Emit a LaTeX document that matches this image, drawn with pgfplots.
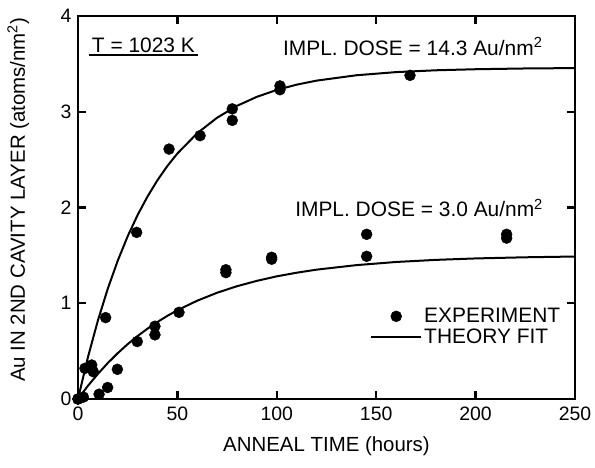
\documentclass[border=0pt]{standalone}
\usepackage{fontspec}
\setmainfont{Liberation Sans}
\usepackage{pgfplots}
\pgfplotsset{compat=1.18}

% Legend pictures: a dot centred over a 50bp line, and the plain line
\pgfplotsset{
  dotlegend/.style={legend image code/.code={%
    \draw[##1,mark repeat=2,mark phase=2] plot coordinates {(0bp,0bp) (25bp,0bp) (50bp,0bp)};}},
  linelegend/.style={legend image code/.code={%
    \draw[##1] (0bp,0bp) -- (50bp,0bp);}},
}

% Measured gold uptake of the second cavity layer (two implant doses)
\pgfplotstableread{
t     au
0     0
3.5   0.32
6.9   0.355
7.7   0.285
13.9  0.85
29.5  1.74
45.8  2.61
61.4  2.75
77.6  3.03
77.6  2.91
101.6 3.27
101.6 3.23
167   3.38
}\highdose
\pgfplotstableread{
t     au
0     0
2.7   0.02
10.6  0.05
14.9  0.12
19.8  0.31
29.8  0.60
38.7  0.76
38.7  0.67
50.8  0.905
74.4  1.35
74.4  1.32
97.4  1.48
97.4  1.46
145.2 1.72
145.2 1.49
215.6 1.72
215.6 1.68
}\lowdose
% Fitted uptake curves
\pgfplotstableread{
t    au
0    0
5    0.437
10   0.819
15   1.153
20   1.445
25   1.700
30   1.922
35   2.116
40   2.286
45   2.435
50   2.564
60   2.776
70   2.938
80   3.062
90   3.156
100  3.228
110  3.283
120  3.325
140  3.381
160  3.414
180  3.433
200  3.444
225  3.452
250  3.456
}\highfit
\pgfplotstableread{
t    au
0    0
5    0.138
10   0.262
15   0.376
20   0.479
25   0.573
30   0.658
35   0.735
40   0.805
45   0.869
50   0.927
60   1.027
70   1.110
80   1.178
90   1.234
100  1.281
110  1.319
120  1.351
140  1.398
160  1.431
180  1.453
200  1.468
225  1.480
250  1.488
}\lowfit

\begin{document}
\begin{tikzpicture}
\begin{axis}[
  scale only axis,
  width=497bp, height=383bp,
  xmin=0, xmax=250, ymin=0, ymax=4,
  xtick={0,50,100,150,200,250},
  ytick={0,1,2,3,4},
  tick align=inside,
  major tick length=8bp,
  axis line style={line width=2.5bp},
  every tick/.style={line width=2.3bp, black},
  tick label style={font=\fontsize{19.5}{22}\selectfont},
  xticklabel style={yshift=-4bp},
  yticklabel style={xshift=-3bp},
  /pgf/number format/assume math mode=true,
  xlabel={ANNEAL TIME (hours)},
  ylabel={Au IN 2ND CAVITY LAYER (atoms/nm\textsuperscript{2})},
  label style={font=\fontsize{20.5}{24}\selectfont},
  xlabel style={at={(axis description cs:0.5,0)}, anchor=base, yshift=-52bp},
  ylabel style={at={(axis description cs:-0.107,0.52)}, anchor=base},
  clip=false,
  legend style={draw=none, fill=none, at={(axis cs:145.4,0.99)}, anchor=north west,
    font=\fontsize{21}{24}\selectfont, row sep=1bp},
  legend cell align=left,
]
\addplot[only marks, mark=*, mark size=5.5bp, black, dotlegend]
  table[x=t, y=au] {\highdose};
\addlegendentry{EXPERIMENT}
\addplot[black, line width=2bp, linelegend]
  table[x=t, y=au] {\highfit};
\addlegendentry{THEORY FIT}
\addplot[only marks, mark=*, mark size=5.5bp, black, forget plot]
  table[x=t, y=au] {\lowdose};
\addplot[black, line width=2bp, forget plot]
  table[x=t, y=au] {\lowfit};

\node[anchor=base west, font=\fontsize{21}{24}\selectfont, inner sep=0pt]
  at (axis cs:103.1,3.59) {IMPL. DOSE = 14.3 Au/nm\textsuperscript{2}};
\node[anchor=base west, font=\fontsize{21}{24}\selectfont, inner sep=0pt]
  at (axis cs:109.2,1.904) {IMPL. DOSE = 3.0 Au/nm\textsuperscript{2}};
\node[anchor=base west, font=\fontsize{21}{24}\selectfont, inner xsep=3bp, inner ysep=2bp,
  append after command={(\tikzlastnode.south west) edge[line width=2.2bp] (\tikzlastnode.south east)}]
  at (axis cs:5.4,3.617) {T = 1023 K};
\end{axis}
\pgfresetboundingbox
\path (current axis.south west) ++(-78bp,-69bp) rectangle ([shift={(20bp,16bp)}]current axis.north east);
\end{tikzpicture}
\end{document}
